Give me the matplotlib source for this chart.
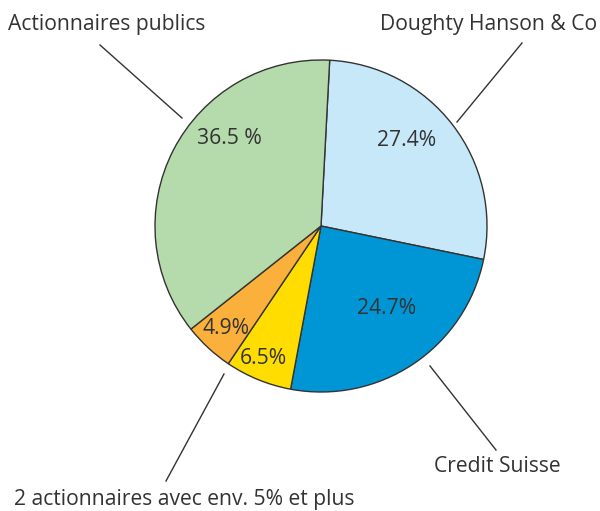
import matplotlib.pyplot as plt

# ======================
# DATA
# ======================
labels = ["Doughty Hanson & Co", "Credit Suisse", "2 actionnaires avec env. 5% et plus",
          "", "Actionnaires publics"]
values = [27.4, 24.7, 6.5, 4.9, 36.5]
pct_texts = ["27.4%", "24.7%", "6.5%", "4.9%", "36.5 %"]
colors = ["#c6e8f9", "#0096d6", "#ffdd00", "#fbb03b", "#b5dbac"]

W, H = 600, 511


def P(px, py):
    # pixel coords (origin top-left) -> data coords
    return (px, H - py)


fig = plt.figure(figsize=(6, 5.11), dpi=100)
ax = fig.add_axes([0, 0, 1, 1])

ax.pie(values, colors=colors, startangle=87, counterclock=False,
       center=P(321, 226), radius=166, frame=True,
       wedgeprops=dict(edgecolor="#333333", linewidth=1.0))
ax.set_xlim(0, W)
ax.set_ylim(0, H)
ax.set_aspect("equal")
ax.axis("off")

font = "Open Sans"
txt_col = "#333333"
fs = 15.2

# percentage labels
pct_pos = [(407, 140), (387, 308), (263, 359), (226, 328), (229, 138)]
for t, (px, py) in zip(pct_texts, pct_pos):
    ax.text(*P(px, py), t, ha="center", va="center", fontsize=fs,
            family=font, color=txt_col)

# outer labels with leader lines
line_kw = dict(color="#333333", linewidth=1.0)
ax.plot(*zip(P(100, 45), P(182, 118)), **line_kw)
ax.plot(*zip(P(522, 43), P(457, 122)), **line_kw)
ax.plot(*zip(P(430, 366), P(496, 450)), **line_kw)
ax.plot(*zip(P(224, 374), P(166, 481)), **line_kw)

ax.text(*P(8, 24), labels[4], ha="left", va="center", fontsize=fs,
        family=font, color=txt_col)
ax.text(*P(597, 24), labels[0], ha="right", va="center", fontsize=fs,
        family=font, color=txt_col)
ax.text(*P(497, 467), labels[1], ha="center", va="center", fontsize=fs,
        family=font, color=txt_col)
ax.text(*P(14, 499), labels[2], ha="left", va="center", fontsize=fs,
        family=font, color=txt_col)

fig.savefig("out.png", dpi=100)
